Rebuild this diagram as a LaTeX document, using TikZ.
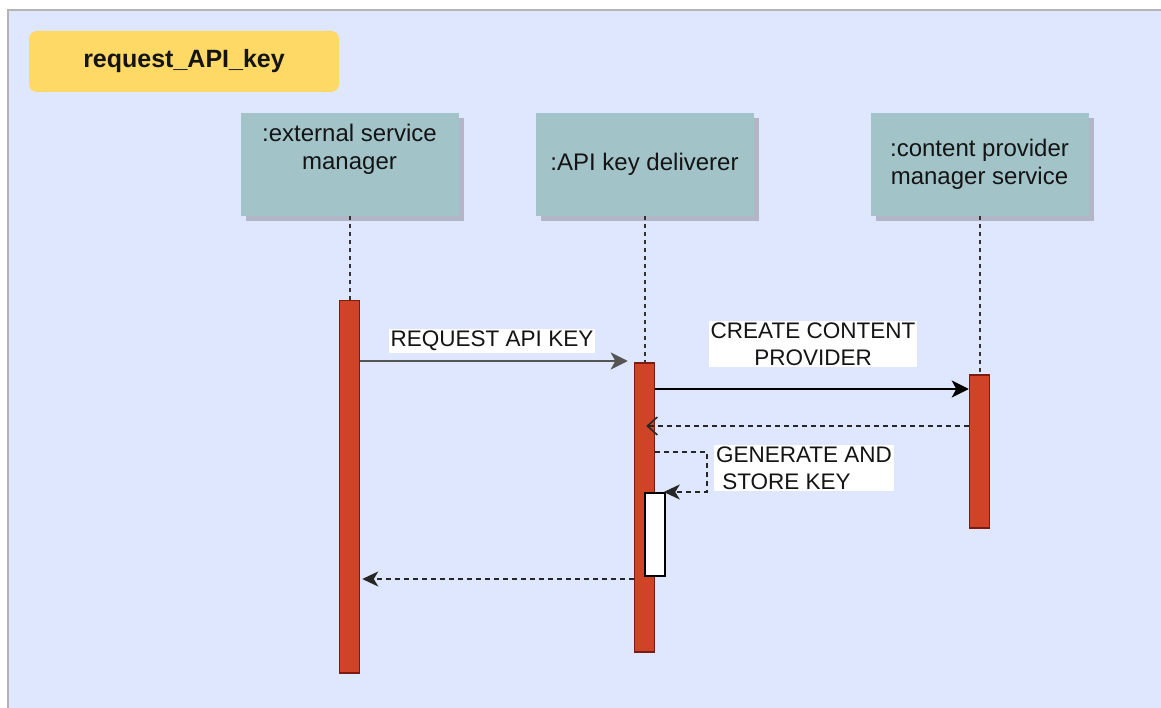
\documentclass[tikz,border=0pt]{standalone}
\usepackage{fontspec}
\setmainfont{Liberation Sans}
\usetikzlibrary{arrows.meta,shadows}
\definecolor{canvas}{HTML}{DEE7FD}
\definecolor{frameline}{HTML}{B4B4B4}
\definecolor{titlefill}{HTML}{FFD966}
\definecolor{headfill}{HTML}{A2C4C9}
\definecolor{headshadow}{HTML}{B2B6C6}
\definecolor{barfill}{HTML}{CF4326}
\definecolor{barline}{HTML}{7A1C12}
\definecolor{msggray}{HTML}{555555}
\definecolor{ink}{HTML}{141414}

\begin{document}
\begin{tikzpicture}[x=1pt,y=-1pt,
  titlebox/.style={rectangle, rounded corners=8pt, fill=titlefill, minimum width=310pt,
    minimum height=61pt, inner sep=0pt, text=ink, font=\bfseries\fontsize{25}{30}\selectfont},
  headbox/.style={rectangle, fill=headfill, minimum width=218pt, minimum height=103pt,
    inner sep=0pt, align=center, text=ink, font=\fontsize{24}{28.5}\selectfont,
    drop shadow={shadow xshift=5pt, shadow yshift=-5pt, fill=headshadow, opacity=1}},
  headtext/.style={inner sep=0pt, align=center, text=ink, font=\fontsize{24}{28.5}\selectfont},
  bar/.style={rectangle, anchor=north, fill=barfill, draw=barline, line width=1.5pt,
    minimum width=20pt, inner sep=0pt},
  life/.style={draw=black!80, line width=2pt, dash pattern=on 4pt off 4pt},
  msg/.style={line width=2.2pt, -{Stealth[length=17pt, width=17pt, inset=4.5pt]}},
  ret/.style={line width=2pt, draw=black!85, dash pattern=on 5pt off 4pt},
  retfill/.style={ret, -{Stealth[length=16pt, width=15pt, inset=4.5pt]}},
  retopen/.style={ret, -{Straight Barb[length=10pt, width=18pt, line width=1.5pt]}},
  msglabel/.style={fill=white, inner xsep=2pt, inner ysep=2pt, text=ink,
    font=\fontsize{22.5}{27}\selectfont, align=center}
]
\useasboundingbox (0,0) rectangle (1161,708);

% canvas with its frame on the top and left edges
\fill[canvas] (8,10) rectangle (1161,708);
\draw[frameline, line width=2pt] (1161,10) -- (8,10) -- (8,708);

% diagram title
\node[titlebox] (title) at (184,61.5) {request\_API\_key};

% lifeline heads
\node[headbox, label={[headtext, anchor=north, yshift=-11pt]north:{:external service\\manager}}]
  (h1) at (349.5,164.5) {};
\node[headbox] (h2) at (644.5,164.5) {:API key deliverer};
\node[headbox] (h3) at (979.5,164.5) {:content provider\\manager service};

% activation bars
\node[bar, minimum height=372pt] (a1) at (349.5,300) {};
\node[bar, minimum height=289pt] (a2) at (644.5,362) {};
\node[bar, minimum height=153pt] (a3) at (979.5,374) {};

% lifelines
\draw[life] (h1.south) -- (a1.north);
\draw[life] (h2.south) -- (a2.north);
\draw[life] (h3.south) -- (a3.north);

% nested activation for the self call
\node[bar, fill=white, draw=black, minimum height=83pt] (a2b) at (655,492) {};

% REQUEST API KEY
\coordinate (m1) at (0,361);
\draw[msg, draw=msggray, fill=msggray, shorten >=6pt] (a1.east |- m1) -- (a2.west |- m1);
\node[msglabel] (l1) at (492,341) {REQUEST API KEY};

% CREATE CONTENT PROVIDER
\coordinate (m2) at (0,389);
\draw[msg] (a2.east |- m2) -- (a3.west |- m2);
\node[msglabel] (l2) at (813,344) {CREATE CONTENT\\PROVIDER};

% reply from the content provider manager service
\coordinate (m3) at (0,426);
\draw[retopen, shorten >=-9pt] (a3.west |- m3) -- (a2.east |- m3);

% self call: generate and store key
\coordinate (s1) at (707,452);
\draw[retfill, shorten >=-2pt] (a2.east |- s1) -- (s1) |- (a2b.north east);
\node[msglabel, align=left] (l3) at (804,468) {GENERATE AND\\\ STORE KEY};

% reply to the external service manager
\coordinate (m4) at (0,579);
\draw[retfill, shorten >=2pt] (a2.west |- m4) -- (a1.east |- m4);
\end{tikzpicture}
\end{document}
